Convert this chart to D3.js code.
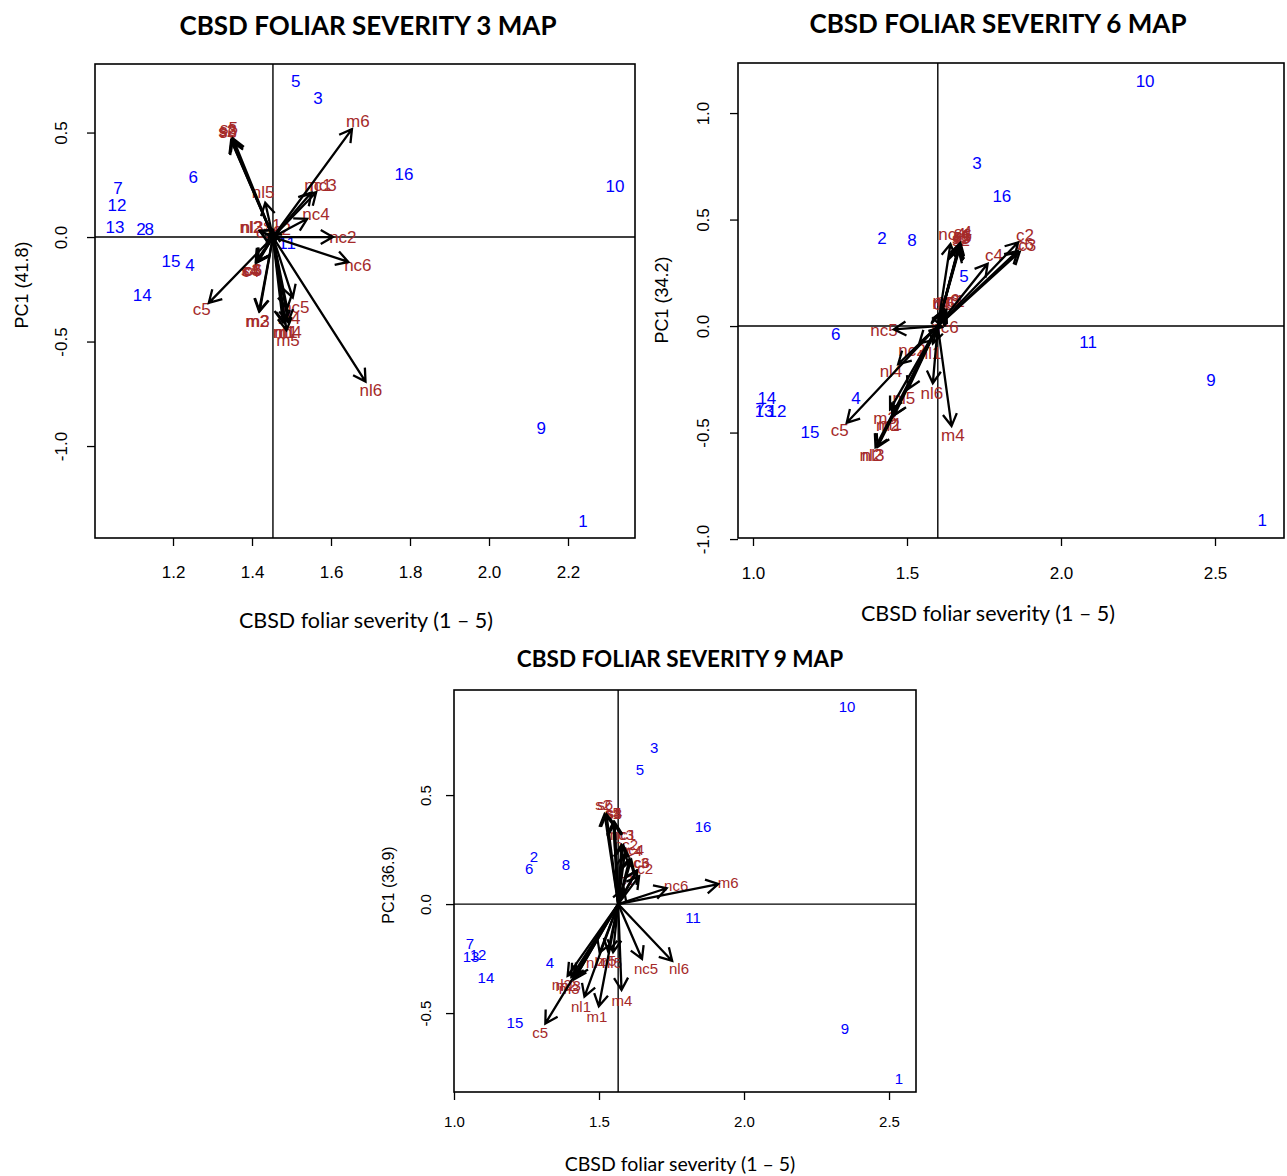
<!DOCTYPE html>
<html>
<head>
<meta charset="utf-8">
<script src="https://cdn.jsdelivr.net/npm/d3@7"></script>
<style>
  body { margin: 0; background: #fff; }
</style>
</head>
<body>
<div id="chart"></div>
<script>
// genotype ids (blue points)
var pointIds = ["1","2","3","4","5","6","7","8","9","10","11","12","13","14","15","16"];

// CBSD foliar severity 3 map
var map3X = [2.238, 1.119, 1.567, 1.243, 1.511, 1.251, 1.061, 1.140, 2.132, 2.319, 1.489, 1.058, 1.053, 1.122, 1.195, 1.785];
var map3Y = [-1.359, 0.038, 0.665, -0.134, 0.742, 0.287, 0.234, 0.038, -0.914, 0.244, -0.029, 0.153, 0.048, -0.282, -0.115, 0.297];
var map3Origin = [1.453, 0];
var map3Vars = ["s2","s3","s5","s6","m6","nc1","nc3","nl5","nc4","nl3","nl2","nc2","nc6","nl6","c5",
                "m3","m2","c3","c6","c4","s4","nc5","nl4","nl1","m4","m1","m5","c2","c1","s1"];
var map3VarX = [1.337,1.339,1.342,1.339,1.668,1.567,1.580,1.428,1.562,1.400,1.397,1.630,1.668,1.701,1.273,
                1.415,1.413,1.400,1.403,1.397,1.395,1.511,1.494,1.481,1.496,1.486,1.491,1.476,1.433,1.451];
var map3VarY = [0.507,0.512,0.517,0.502,0.555,0.249,0.249,0.211,0.110,0.048,0.048,0.000,-0.134,-0.732,-0.349,
                -0.402,-0.402,-0.158,-0.158,-0.163,-0.158,-0.335,-0.388,-0.455,-0.455,-0.459,-0.493,0.038,0.024,0.053];

// CBSD foliar severity 6 map
var map6X = [2.653, 1.419, 1.727, 1.334, 1.685, 1.269, 1.023, 1.516, 2.487, 2.273, 2.088, 1.078, 1.036, 1.045, 1.185, 1.808];
var map6Y = [-0.915, 0.413, 0.761, -0.338, 0.235, -0.038, -0.390, 0.404, -0.254, 1.146, -0.075, -0.399, -0.399, -0.338, -0.498, 0.610];
var map6Origin = [1.60, 0];
var map6Vars = ["nc4","s4","s2","s5","s6","s1","s3","c2","c6","c3","c4","nc1","nc3","m6","m5",
                "c1","nc6","nc5","nc2","nl1","nl4","nl5","nl6","m4","c5","m3","m2","m1","nl2","nl3"];
var map6VarX = [1.646,1.682,1.675,1.679,1.682,1.679,1.675,1.883,1.883,1.890,1.782,1.643,1.627,1.633,1.620,
                1.614,1.623,1.425,1.516,1.575,1.448,1.490,1.581,1.649,1.282,1.429,1.438,1.445,1.383,1.390];
var map6VarY = [0.432,0.437,0.404,0.418,0.423,0.427,0.413,0.427,0.385,0.380,0.329,0.117,0.113,0.122,0.108,
                0.099,-0.009,-0.019,-0.113,-0.127,-0.211,-0.338,-0.315,-0.516,-0.488,-0.432,-0.465,-0.460,-0.610,-0.610];

// CBSD foliar severity 9 map
var map9X = [2.534, 1.276, 1.690, 1.331, 1.641, 1.259, 1.055, 1.386, 2.348, 2.355, 1.824, 1.083, 1.059, 1.110, 1.210, 1.859];
var map9Y = [-0.798, 0.220, 0.720, -0.266, 0.619, 0.165, -0.183, 0.183, -0.573, 0.908, -0.060, -0.229, -0.239, -0.339, -0.541, 0.358];
var map9Origin = [1.566, 0];
var map9Vars = ["s2","s6","s5","s4","s3","s1","nc3","nc1","nc2","nc4","c4","c3","c6","c2","c1",
                "nc6","m6","nc5","nl6","m4","m1","nl1","c5","nl2","m2","m3","nl3","nl4","m5","nl5"];
var map9VarX = [1.514,1.521,1.548,1.552,1.552,1.548,1.579,1.586,1.593,1.614,1.621,1.645,1.648,1.659,1.597,
                1.766,1.945,1.662,1.776,1.579,1.493,1.438,1.297,1.372,1.386,1.397,1.403,1.490,1.524,1.545];
var map9VarY = [0.459,0.459,0.422,0.422,0.417,0.417,0.317,0.317,0.275,0.252,0.248,0.193,0.193,0.165,0.115,
                0.087,0.101,-0.294,-0.294,-0.440,-0.514,-0.468,-0.587,-0.367,-0.372,-0.385,-0.372,-0.266,-0.261,-0.266];

var svgWidth = 1287;
var svgHeight = 1176;

var svg = d3.select("#chart")
    .append("svg")
    .attr("width", svgWidth)
    .attr("height", svgHeight);

var panels = [
    {
        title: "CBSD FOLIAR SEVERITY 3 MAP", yTitle: "PC1 (41.8)",
        px: map3X, py: map3Y, origin: map3Origin, vars: map3Vars, vx: map3VarX, vy: map3VarY,
        box: {left: 95, top: 64, right: 635, bottom: 538},
        xDomain: [1.0025, 2.3696], yDomain: [-1.440, 0.828],
        xTicks: [1.2, 1.4, 1.6, 1.8, 2.0, 2.2], yTicks: [-1.0, -0.5, 0.0, 0.5],
        titlePos: [368, 25], titleSize: 26,
        xLabPos: [366, 620], xLabSize: 21.5,
        yLabPos: [22, 285], yLabSize: 18,
        font: 17, tickFont: 17, tickGap: 34
    },
    {
        title: "CBSD FOLIAR SEVERITY 6 MAP", yTitle: "PC1 (34.2)",
        px: map6X, py: map6Y, origin: map6Origin, vars: map6Vars, vx: map6VarX, vy: map6VarY,
        box: {left: 738, top: 63, right: 1284, bottom: 538},
        xDomain: [0.9513, 2.724], yDomain: [-0.995, 1.235],
        xTicks: [1.0, 1.5, 2.0, 2.5], yTicks: [-1.0, -0.5, 0.0, 0.5, 1.0],
        titlePos: [998, 23], titleSize: 26,
        xLabPos: [988, 613], xLabSize: 21.5,
        yLabPos: [662, 300], yLabSize: 18,
        font: 17, tickFont: 17, tickGap: 35
    },
    {
        title: "CBSD FOLIAR SEVERITY 9 MAP", yTitle: "PC1 (36.9)",
        px: map9X, py: map9Y, origin: map9Origin, vars: map9Vars, vx: map9VarX, vy: map9VarY,
        box: {left: 454, top: 690, right: 916, bottom: 1092},
        xDomain: [1.0, 2.593], yDomain: [-0.862, 0.982],
        xTicks: [1.0, 1.5, 2.0, 2.5], yTicks: [-0.5, 0.0, 0.5],
        titlePos: [680, 658], titleSize: 22.5,
        xLabPos: [680, 1163], xLabSize: 19.5,
        yLabPos: [388, 885], yLabSize: 16,
        font: 15, tickFont: 15, tickGap: 29
    }
];

panels.forEach(drawPanel);

function drawPanel(p) {
    var g = svg.append("g");
    var b = p.box;

    var x = d3.scaleLinear().domain(p.xDomain).range([b.left, b.right]);
    var y = d3.scaleLinear().domain(p.yDomain).range([b.bottom, b.top]);

    // axes (R style, ticks outside, labels rotated on y)
    var xAxis = g.append("g")
        .attr("transform", `translate(0, ${b.bottom})`)
        .call(d3.axisBottom(x).tickValues(p.xTicks).tickSize(8).tickFormat(d => d.toFixed(1)));
    xAxis.select(".domain").remove();
    xAxis.selectAll("line").attr("stroke", "#000").attr("stroke-width", 1.3);
    xAxis.selectAll("text")
        .attr("y", p.tickGap)
        .attr("dy", "0")
        .attr("dominant-baseline", "central")
        .attr("font-family", "Liberation Sans, Arial, sans-serif")
        .attr("font-size", p.tickFont)
        .attr("fill", "#000");

    var yAxis = g.append("g")
        .attr("transform", `translate(${b.left}, 0)`)
        .call(d3.axisLeft(y).tickValues(p.yTicks).tickSize(8).tickFormat(d => d.toFixed(1)));
    yAxis.select(".domain").remove();
    yAxis.selectAll("line").attr("stroke", "#000").attr("stroke-width", 1.3);
    yAxis.selectAll("text")
        .attr("x", 0).attr("y", 0).attr("dy", 0)
        .attr("text-anchor", "middle")
        .attr("dominant-baseline", "central")
        .attr("transform", `translate(${-p.tickGap},0) rotate(-90)`)
        .attr("font-family", "Liberation Sans, Arial, sans-serif")
        .attr("font-size", p.tickFont)
        .attr("fill", "#000");

    // box
    g.append("rect")
        .attr("x", b.left).attr("y", b.top)
        .attr("width", b.right - b.left).attr("height", b.bottom - b.top)
        .attr("fill", "none").attr("stroke", "#000").attr("stroke-width", 1.6);

    // reference lines through origin
    var ox = x(p.origin[0]), oy = y(p.origin[1]);
    g.append("line")
        .attr("x1", ox).attr("x2", ox).attr("y1", b.top).attr("y2", b.bottom)
        .attr("stroke", "#000").attr("stroke-width", 1.4);
    g.append("line")
        .attr("x1", b.left).attr("x2", b.right).attr("y1", oy).attr("y2", oy)
        .attr("stroke", "#000").attr("stroke-width", 1.4);

    // points
    g.selectAll(".pt")
        .data(pointIds)
        .enter()
        .append("text")
        .attr("x", (d, i) => x(p.px[i]))
        .attr("y", (d, i) => y(p.py[i]))
        .attr("text-anchor", "middle")
        .attr("dominant-baseline", "central")
        .attr("font-family", "Liberation Sans, Arial, sans-serif")
        .attr("font-size", p.font)
        .attr("fill", "#0000FF")
        .text(d => d);

    // variable arrows
    var vars = p.vars.map(function(name, i) {
        var lx = x(p.vx[i]), ly = y(p.vy[i]);
        var dx = lx - ox, dy = ly - oy;
        var len = Math.sqrt(dx * dx + dy * dy);
        var off = Math.min(10, len * 0.4);
        return {name: name, lx: lx, ly: ly,
                tx: lx - dx / len * off, ty: ly - dy / len * off};
    });

    g.selectAll(".vlab")
        .data(vars)
        .enter()
        .append("text")
        .attr("x", d => d.lx)
        .attr("y", d => d.ly)
        .attr("text-anchor", "middle")
        .attr("dominant-baseline", "central")
        .attr("font-family", "Liberation Sans, Arial, sans-serif")
        .attr("font-size", p.font)
        .attr("fill", "#A52A2A")
        .text(d => d.name);

    var head = 14, ang = Math.PI / 6;
    g.selectAll(".arrow")
        .data(vars)
        .enter()
        .append("path")
        .attr("d", function(d) {
            var a = Math.atan2(d.ty - oy, d.tx - ox);
            var h1x = d.tx - head * Math.cos(a - ang), h1y = d.ty - head * Math.sin(a - ang);
            var h2x = d.tx - head * Math.cos(a + ang), h2y = d.ty - head * Math.sin(a + ang);
            return `M${ox},${oy}L${d.tx},${d.ty}M${h1x},${h1y}L${d.tx},${d.ty}L${h2x},${h2y}`;
        })
        .attr("fill", "none")
        .attr("stroke", "#000")
        .attr("stroke-width", 2.3);

    // titles
    g.append("text")
        .attr("x", p.titlePos[0]).attr("y", p.titlePos[1])
        .attr("text-anchor", "middle")
        .attr("dominant-baseline", "central")
        .attr("font-family", "Lato, Open Sans, sans-serif")
        .attr("font-weight", "bold")
        .attr("font-size", p.titleSize)
        .text(p.title);

    g.append("text")
        .attr("x", p.xLabPos[0]).attr("y", p.xLabPos[1])
        .attr("text-anchor", "middle")
        .attr("dominant-baseline", "central")
        .attr("font-family", "Lato, Open Sans, sans-serif")
        .attr("font-size", p.xLabSize)
        .text("CBSD foliar severity (1 \u2013 5)");

    g.append("text")
        .attr("transform", `translate(${p.yLabPos[0]}, ${p.yLabPos[1]}) rotate(-90)`)
        .attr("text-anchor", "middle")
        .attr("dominant-baseline", "central")
        .attr("font-family", "Liberation Sans, Arial, sans-serif")
        .attr("font-size", p.yLabSize)
        .text(p.yTitle);
}
</script>
</body>
</html>
